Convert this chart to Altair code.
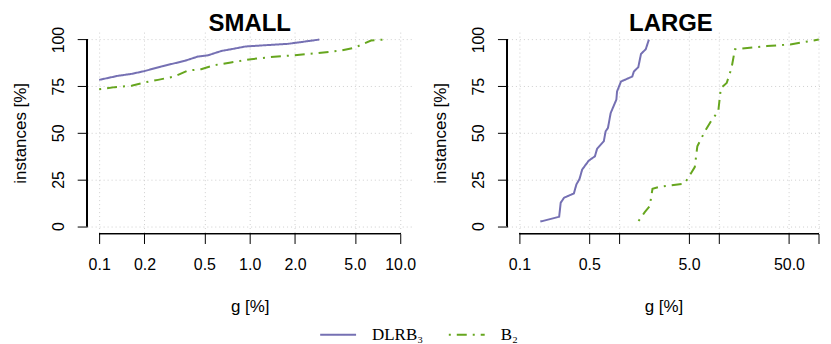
import altair as alt
import pandas as pd

# ---- data ----
methods = ["DLRB₃", "B₂"]
colors = ["#7570b3", "#66a61e"]

small_dlrb_g = [0.1, 0.134, 0.164, 0.2, 0.259, 0.37, 0.453, 0.53, 0.649, 0.75, 0.94, 1.28, 1.79, 2.08, 2.9]
small_dlrb_pct = [78.4, 80.6, 81.6, 83.1, 85.6, 88.6, 90.9, 91.6, 93.9, 94.8, 96.3, 97.0, 97.7, 98.4, 100]
small_b2_g = [0.1, 0.127, 0.164, 0.2, 0.246, 0.317, 0.388, 0.476, 0.584, 0.75, 1.02, 1.38, 1.98, 2.8, 4.04, 4.93, 5.8, 6.4, 7.8]
small_b2_pct = [73.4, 74.5, 75.2, 77.0, 78.4, 80.2, 83.4, 84.1, 86.3, 87.7, 89.5, 90.6, 91.6, 92.7, 94.1, 95.5, 98.0, 99.5, 100]

large_dlrb_g = [0.162, 0.25, 0.259, 0.28, 0.351, 0.372, 0.4, 0.425, 0.495, 0.57, 0.6, 0.7, 0.73, 0.77, 0.82, 0.88, 0.935, 0.95, 1.04, 1.35, 1.4, 1.55, 1.65, 1.84, 1.98]
large_dlrb_pct = [2.4, 5.0, 12.5, 15.2, 17.5, 22.3, 25.3, 30.3, 35.1, 37.4, 41.5, 45.5, 50.8, 52.6, 60.6, 64.5, 67.8, 72.2, 77.5, 80.2, 82.9, 85.2, 92.3, 94.8, 100]
large_b2_g = [1.56, 1.8, 2.02, 2.15, 2.55, 4.5, 4.9, 5.7, 6.05, 7.2, 8.4, 9.8, 10.4, 11.9, 13.3, 14.4, 30, 51.6, 99.5]
large_b2_pct = [2.7, 7.5, 10.7, 20.0, 21.1, 22.8, 25.9, 31.6, 42.8, 50.8, 56.7, 61.5, 74.0, 76.7, 84.7, 94.8, 96.5, 97.4, 100]

y_ticks = [0, 25, 50, 75, 100]
small_x_ticks = [0.1, 0.2, 0.5, 1, 2, 5, 10]
large_x_ticks = [0.1, 0.5, 1, 5, 10, 50, 100]


def frame(g1, p1, g2, p2):
    return pd.DataFrame({
        "g": g1 + g2,
        "pct": p1 + p2,
        "method": [methods[0]] * len(g1) + [methods[1]] * len(g2),
    })


small_df = frame(small_dlrb_g, small_dlrb_pct, small_b2_g, small_b2_pct)
large_df = frame(large_dlrb_g, large_dlrb_pct, large_b2_g, large_b2_pct)

H = 202
FONT = "Liberation Sans"

legend_cfg = dict(orient="none", direction="horizontal", legendX=232.7, legendY=284.5,
                  symbolType="stroke", symbolSize=1296, symbolStrokeWidth=2, labelOffset=15,
                  columnPadding=21, labelFont="Liberation Serif", labelFontSize=17,
                  labelColor="black", title=None)


def panel(df, title, xdomain, width, xticks, label_expr, x_line, title_dx):
    yscale = alt.Scale(domain=[-4, 104], nice=False, zero=False)
    xscale = alt.Scale(type="log", domain=xdomain, nice=False)
    yaxis = alt.Axis(values=y_ticks, labelAngle=-90, labelAlign="center", labelBaseline="middle",
                     labelPadding=19, tickSize=10, domain=False, title="instances [%]",
                     titleX=-67, titleY=H / 2, titleAngle=-90, titleBaseline="middle",
                     titleAlign="center", grid=True)
    xaxis = alt.Axis(values=xticks, labelExpr=label_expr, labelBaseline="middle", labelAlign="center",
                     labelPadding=21.5, tickSize=10, domain=False, title="g [%]",
                     titleX=width / 2, titleY=73.5, titleBaseline="middle", titleAlign="center",
                     grid=True, labelOverlap=False, labelFlush=False)
    lines = alt.Chart(df).mark_line(strokeWidth=2).encode(
        x=alt.X("g:Q", scale=xscale, axis=xaxis),
        y=alt.Y("pct:Q", scale=yscale, axis=yaxis),
        color=alt.Color("method:N", scale=alt.Scale(domain=methods, range=colors), title=None,
                        legend=alt.Legend(**legend_cfg)),
        strokeDash=alt.StrokeDash("method:N", scale=alt.Scale(domain=methods, range=[[1, 0], [2, 6, 10, 6]]),
                                  title=None, legend=alt.Legend(**legend_cfg)),
    )
    yline = alt.Chart(df).mark_rule(color="black", strokeWidth=1).encode(
        x=alt.value(0), y=alt.datum(0), y2=alt.datum(100))
    xline = alt.Chart(df).mark_rule(color="black", strokeWidth=1).encode(
        y=alt.value(H), x=alt.datum(x_line[0]), x2=alt.datum(x_line[1]))
    return alt.layer(lines, yline, xline).properties(
        width=width, height=H,
        title=alt.TitleParams(title, fontSize=24, fontWeight="bold", font=FONT, anchor="middle",
                              baseline="bottom", offset=-34, dx=title_dx, color="black"))


left = panel(small_df, "SMALL", [0.0832, 12.02], 326, small_x_ticks,
             "format(datum.value, '.1f')", [0.1, 10], 0)
right = panel(large_df, "LARGE", [10 ** -1.12, 101.16], 313, large_x_ticks,
              "(datum.value == 1 || datum.value == 10 || datum.value == 100) ? '' : format(datum.value, '.1f')",
              [0.1, 100], 7.5)

chart = alt.hconcat(left, right, spacing=14.5).properties(
    padding={"left": 2.4, "top": 3.7, "right": 0, "bottom": 0}
).configure_view(stroke=None).configure_axis(
    labelFont=FONT, labelFontSize=16, labelColor="black", titleFont=FONT, titleFontSize=17,
    titleFontWeight="normal", titleColor="black", tickColor="black", tickWidth=1,
    gridColor="#cfcfcf", gridDash=[1, 3], gridWidth=1
).configure_legend(padding=0)

chart.save("out.html", embed_options={"renderer": "svg", "actions": False})
